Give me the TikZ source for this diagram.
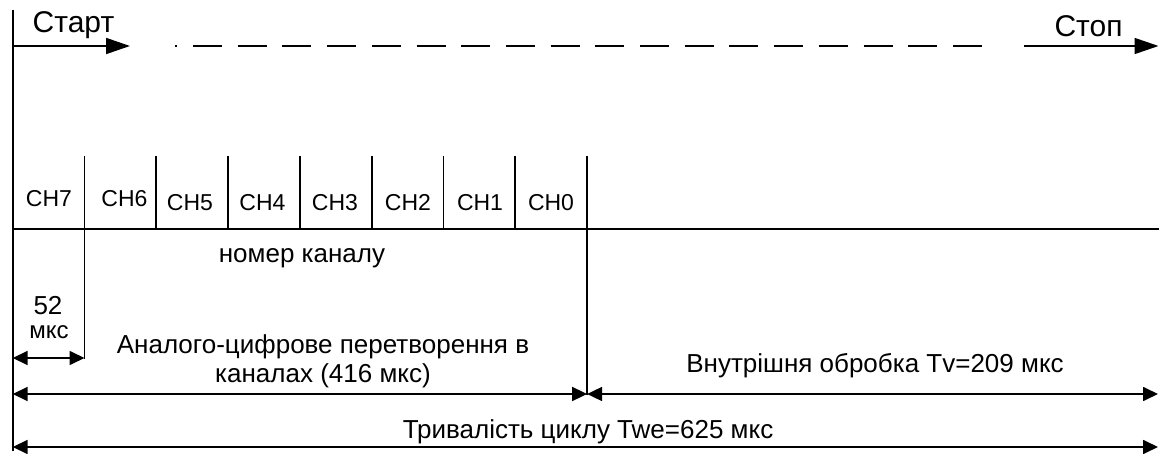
\documentclass[tikz,border=0pt]{standalone}
\usepackage{fontspec}
\setmainfont{Liberation Sans}
\usetikzlibrary{arrows.meta}
\begin{document}
\begin{tikzpicture}[x=1pt,y=-1pt,
  ln/.style={line width=1.7pt, line cap=butt},
  dim/.style={ln, {Triangle[length=15pt,width=14pt]}-{Triangle[length=15pt,width=14pt]}},
  bigarrow/.style={ln, -{Triangle[length=24pt,width=16pt]}},
  dashln/.style={ln, dash pattern=on 29pt off 15.7pt, dash phase=26.7pt},
  lbl/.style={inner sep=0pt, anchor=base, font=\fontsize{26}{30}\selectfont},
  chl/.style={inner sep=0pt, anchor=base, font=\fontsize{23}{27}\selectfont},
  sml/.style={inner sep=0pt, anchor=base, font=\fontsize{24}{28}\selectfont},
  ttl/.style={inner sep=0pt, anchor=base, font=\fontsize{30}{34}\selectfont},
]
\useasboundingbox (0,0) rectangle (1159,454);
% left border line
\coordinate (L0) at (12.7,10);
\coordinate (L1) at (12.7,451);
\draw[ln] (L0) -- (L1);
% start / stop
\coordinate (s0) at (12.7,46);
\coordinate (s1) at (130,46);
\draw[bigarrow] (s0) -- (s1);
\coordinate (d0) at (175,46);
\coordinate (d1) at (982,46);
\draw[dashln] (d0) -- (d1);
\coordinate (e0) at (1024,46);
\coordinate (e1) at (1158.5,46);
\draw[bigarrow] (e0) -- (e1);
\node[ttl] (start) at (73.5,33) {Старт};
\node[ttl] (stop) at (1088.5,37) {Стоп};
% dividers
\foreach \i/\yb in {1/359,2/229,3/229,4/229,5/229,6/229,7/229,8/395}{
  \coordinate (t\i) at ({12.7+71.8*\i},156);
  \coordinate (b\i) at ({12.7+71.8*\i},\yb);
  \draw[ln] (t\i) -- (b\i);
}
\coordinate (h0) at (12.7,229);
\coordinate (h1) at (1159,229);
\draw[ln] (h0) -- (h1);
% channel labels
\node[chl] (ch7) at (49,207) {CH7};
\node[chl] (ch6) at (124.5,207) {CH6};
\node[chl] (ch5) at (190,211) {CH5};
\node[chl] (ch4) at (262.5,211) {CH4};
\node[chl] (ch3) at (335,211) {CH3};
\node[chl] (ch2) at (408,211) {CH2};
\node[chl] (ch1) at (480,211) {CH1};
\node[chl] (ch0) at (551,211) {CH0};
\node[lbl] (nom) at (302,263) {номер каналу};
% 52 us
\node[lbl] (n52) at (48,315) {52};
\node[sml] (mks) at (49,338) {мкс};
\coordinate (a0) at (12.7,358);
\coordinate (a1) at (84.5,358);
\draw[dim] (a0) -- (a1);
% 416 us
\node[lbl] (adc1) at (323,353) {Аналого-цифрове перетворення в};
\node[lbl] (adc2) at (323,382) {каналах (416 мкс)};
\coordinate (c0) at (12.7,394);
\coordinate (c1) at (587.1,394);
\draw[dim] (c0) -- (c1);
% Tv
\node[lbl] (tv) at (875,372) {Внутрішня обробка Tv=209 мкс};
\coordinate (v1) at (1158,394);
\draw[dim] (c1) -- (v1);
% Twe
\node[lbl] (twe) at (588,438) {Тривалість циклу Twe=625 мкс};
\coordinate (w0) at (12.7,447);
\coordinate (w1) at (1158,447);
\draw[dim] (w0) -- (w1);
\end{tikzpicture}
\end{document}
